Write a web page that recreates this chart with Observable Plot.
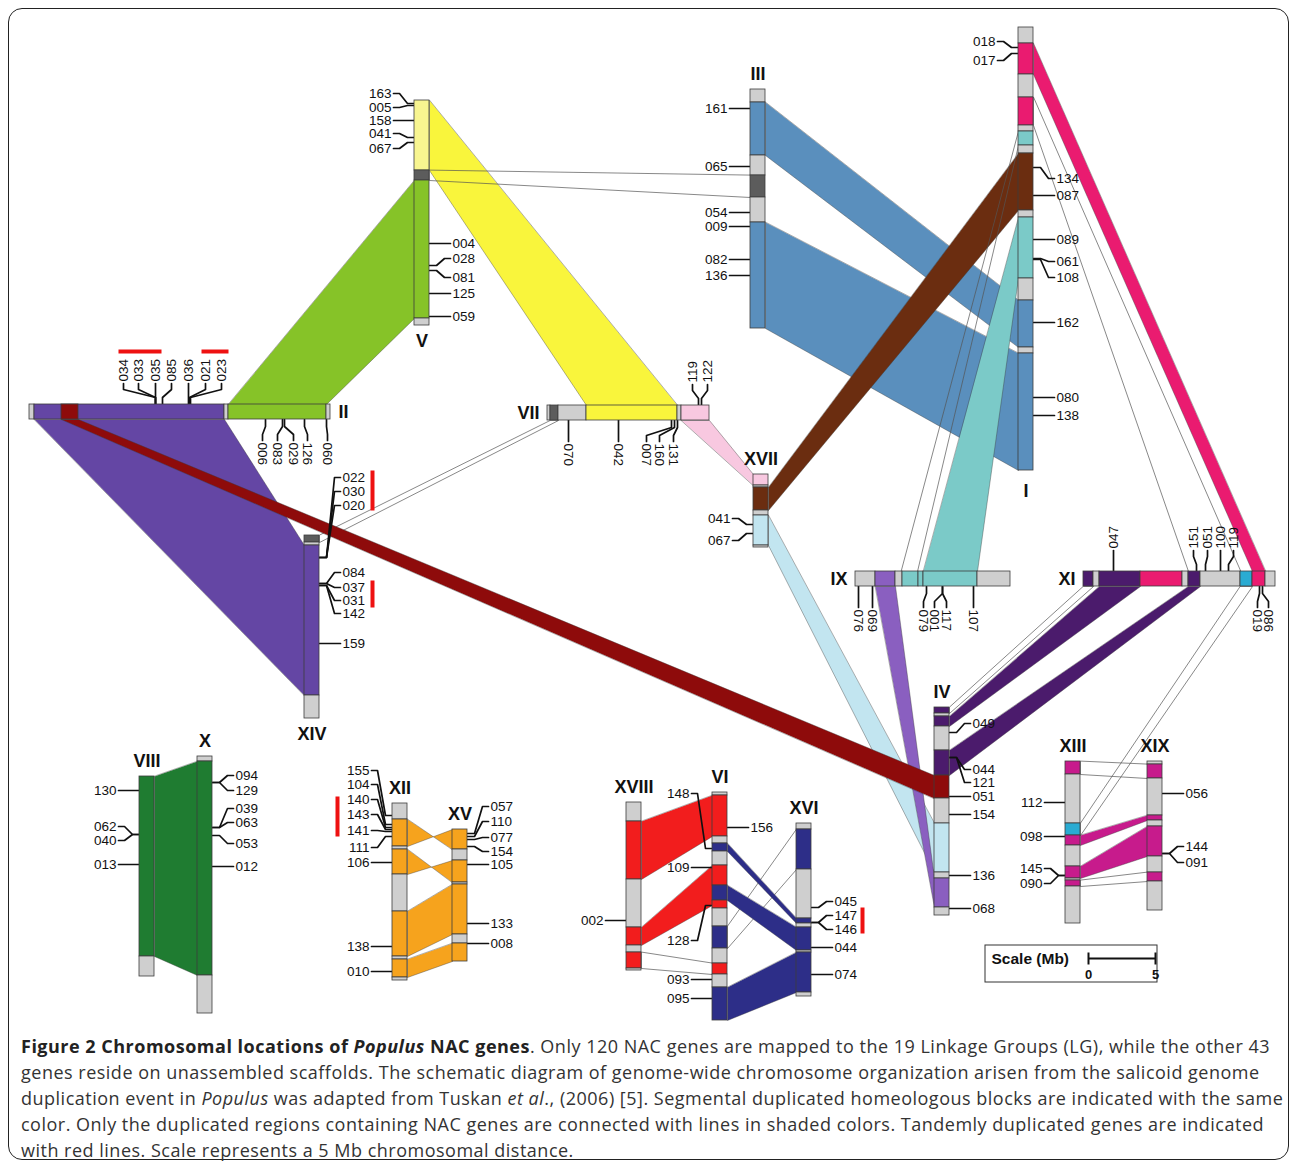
<!DOCTYPE html>
<html><head><meta charset="utf-8">
<script src="https://cdn.jsdelivr.net/npm/d3@7"></script>
<script src="https://cdn.jsdelivr.net/npm/@observablehq/plot@0.6"></script>
<style>
body{margin:0;background:#fff;font-family:"Open Sans",sans-serif;}
#wrap{position:relative;width:1290px;height:1168px;overflow:hidden;}
#frame{position:absolute;left:8px;top:8px;width:1281px;height:1152px;border:1.5px solid #222;border-radius:14px;box-sizing:border-box;}
#chart{position:absolute;left:0;top:0;}
#caption{position:absolute;left:21px;top:1033px;font-size:18px;letter-spacing:0.5px;line-height:26px;color:#333;white-space:nowrap;}
#caption b{color:#222;}
</style></head><body>
<div id="wrap"><div id="frame"></div><div id="chart"></div>
<div id="caption"><b>Figure 2 Chromosomal locations of <i>Populus</i> NAC genes</b>. Only 120 NAC genes are mapped to the 19 Linkage Groups (LG), while the other 43<br>genes reside on unassembled scaffolds. The schematic diagram of genome-wide chromosome organization arisen from the salicoid genome<br>duplication event in <i>Populus</i> was adapted from Tuskan <i>et al</i>., (2006) [5]. Segmental duplicated homeologous blocks are indicated with the same<br>color. Only the duplicated regions containing NAC genes are connected with lines in shaded colors. Tandemly duplicated genes are indicated<br>with red lines. Scale represents a 5 Mb chromosomal distance.</div>
</div>
<script>
// ---- chromosomes: id, orientation, layout x, layout y, length (map units), label side
const chromosomes = [
 ["I","v",1018,27,443,"bottom"],
 ["II","h",29,404,301,"right"],
 ["III","v",750,89,239,"top"],
 ["IV","v",934,707,208,"top"],
 ["V","v",414,100,225,"bottom"],
 ["VI","v",712,792,228,"top"],
 ["VII","h",547,405,162,"left"],
 ["VIII","v",139,776,200,"top"],
 ["IX","h",855,571,155,"left"],
 ["X","v",197,756,257,"top"],
 ["XI","h",1083,571,192,"left"],
 ["XII","v",392,803,177,"top"],
 ["XIII","v",1065,761,162,"top"],
 ["XIV","v",304,535,183,"bottom"],
 ["XV","v",452,829,132,"top"],
 ["XVI","v",796,823,173,"top"],
 ["XVII","v",753,474,73,"top"],
 ["XVIII","v",626,802,168,"top"],
 ["XIX","v",1147,761,149,"top"]
];
// ---- blocks on chromosomes: chromosome, start, end, block colour
const segments = [
 ["I",0,16,"gray"],["I",16,47,"pink"],["I",47,70,"gray"],["I",70,98,"pink"],["I",98,104,"gray"],["I",104,118,"teal"],["I",118,126,"gray"],["I",126,183,"brown"],["I",183,190,"gray"],["I",190,251,"teal"],["I",251,273,"gray"],["I",273,320,"blue"],["I",320,326,"gray"],["I",326,443,"blue"],
 ["II",0,5,"gray"],["II",5,195,"purple"],["II",32,49,"darkred"],["II",195,199,"gray"],["II",199,297,"green"],["II",297,301,"gray"],
 ["III",0,13,"gray"],["III",13,66,"blue"],["III",66,86,"gray"],["III",86,108,"dgray"],["III",108,133,"gray"],["III",133,239,"blue"],
 ["IV",0,6,"dpurple"],["IV",6,9,"gray"],["IV",9,19,"dpurple"],["IV",19,43,"gray"],["IV",43,68,"dpurple"],["IV",68,91,"darkred"],["IV",91,116,"gray"],["IV",116,165,"lightblue"],["IV",165,171,"gray"],["IV",171,200,"lavender"],["IV",200,208,"gray"],
 ["V",0,70,"lyellow"],["V",70,80,"dgray"],["V",80,218,"green"],["V",218,225,"gray"],
 ["VI",0,3,"gray"],["VI",3,44,"red"],["VI",44,51,"gray"],["VI",51,59,"navy"],["VI",59,73,"gray"],["VI",73,93,"red"],["VI",93,108,"navy"],["VI",108,116,"red"],["VI",116,134,"gray"],["VI",134,156,"navy"],["VI",156,171,"gray"],["VI",171,182,"red"],["VI",182,195,"gray"],["VI",195,228,"navy"],
 ["VII",0,3,"gray"],["VII",3,11,"dgray"],["VII",11,39,"gray"],["VII",39,130,"yellow"],["VII",130,134,"gray"],["VII",134,162,"lightpink"],
 ["VIII",0,180,"dgreen"],["VIII",180,200,"gray"],
 ["IX",0,20,"gray"],["IX",20,40,"lavender"],["IX",40,47,"gray"],["IX",47,63,"teal"],["IX",63,68,"teal"],["IX",68,122,"teal"],["IX",122,155,"gray"],
 ["X",0,5,"gray"],["X",5,219,"dgreen"],["X",219,257,"gray"],
 ["XI",0,10,"dpurple"],["XI",10,16,"gray"],["XI",16,57,"dpurple"],["XI",57,99,"pink"],["XI",99,105,"gray"],["XI",105,117,"dpurple"],["XI",117,157,"gray"],["XI",157,169,"cyan"],["XI",169,182,"pink"],["XI",182,192,"gray"],
 ["XII",0,16,"gray"],["XII",16,43,"orange"],["XII",43,46,"gray"],["XII",46,71,"orange"],["XII",71,108,"gray"],["XII",108,153,"orange"],["XII",153,156,"gray"],["XII",156,174,"orange"],["XII",174,177,"gray"],
 ["XIII",0,13,"magenta"],["XIII",13,62,"gray"],["XIII",62,74,"cyan"],["XIII",74,84,"magenta"],["XIII",84,105,"gray"],["XIII",105,117,"magenta"],["XIII",117,119,"gray"],["XIII",119,125,"magenta"],["XIII",125,162,"gray"],
 ["XIV",0,7,"dgray"],["XIV",7,10,"gray"],["XIV",10,160,"purple"],["XIV",160,183,"gray"],
 ["XV",0,20,"orange"],["XV",20,31,"gray"],["XV",31,53,"orange"],["XV",53,55,"gray"],["XV",55,105,"orange"],["XV",105,114,"gray"],["XV",114,132,"orange"],
 ["XVI",0,6,"gray"],["XVI",6,46,"navy"],["XVI",46,95,"gray"],["XVI",95,100,"navy"],["XVI",100,104,"gray"],["XVI",104,127,"navy"],["XVI",127,129,"gray"],["XVI",129,169,"navy"],["XVI",169,173,"gray"],
 ["XVII",0,11,"lightpink"],["XVII",11,13,"gray"],["XVII",13,36,"brown"],["XVII",36,41,"gray"],["XVII",41,71,"lightblue"],["XVII",71,73,"gray"],
 ["XVIII",0,19,"gray"],["XVIII",19,77,"red"],["XVIII",77,125,"gray"],["XVIII",125,143,"red"],["XVIII",143,150,"gray"],["XVIII",150,166,"red"],["XVIII",166,168,"gray"],
 ["XIX",0,3,"gray"],["XIX",3,17,"magenta"],["XIX",17,54,"gray"],["XIX",54,59,"magenta"],["XIX",59,65,"gray"],["XIX",65,95,"magenta"],["XIX",95,111,"gray"],["XIX",111,120,"magenta"],["XIX",120,149,"gray"]
];
// ---- duplicated blocks: chrA, side, startA, endA, chrB, side, startB, endB, colour ("none" = outline only)
const ribbons = [
 ["II","B",5,195,"XIV","L",160,10,"purple"],
 ["II","T",199,297,"V","L",80,218,"green"],
 ["V","R",0,70,"VII","T",130,39,"yellow"],
 ["V","R",70,80,"III","L",86,108,"none"],
 ["VII","B",3,11,"XIV","R",0,7,"none"],
 ["VII","B",134,162,"XVII","L",11,0,"lightpink"],
 ["III","R",13,66,"I","L",273,320,"blue"],
 ["III","R",133,239,"I","L",326,443,"blue"],
 ["XVII","R",13,36,"I","L",126,183,"brown"],
 ["XVII","R",41,71,"IV","L",116,165,"lightblue"],
 ["IX","B",20,40,"IV","L",200,171,"lavender"],
 ["I","L",104,118,"IX","T",46,62,"none"],
 ["I","L",190,251,"IX","T",68,122,"teal"],
 ["I","R",16,47,"XI","T",182,169,"pink"],
 ["I","R",70,98,"XI","T",157,105,"none"],
 ["XI","B",0,10,"IV","R",0,6,"none"],
 ["XI","B",16,57,"IV","R",9,19,"dpurple"],
 ["XI","B",105,117,"IV","R",43,68,"dpurple"],
 ["XI","B",157,169,"XIII","R",62,74,"none"],
 ["II","B",32,49,"IV","L",91,68,"darkred"],
 ["VIII","R",0,180,"X","L",5,219,"dgreen"],
 ["XII","R",16,43,"XV","L",20,0,"orange"],
 ["XII","R",46,71,"XV","L",53,31,"orange"],
 ["XII","R",108,153,"XV","L",55,105,"orange"],
 ["XII","R",156,174,"XV","L",114,132,"orange"],
 ["XVIII","R",19,77,"VI","L",3,44,"red"],
 ["XVIII","R",125,143,"VI","L",73,113,"red"],
 ["XVIII","R",150,166,"VI","L",171,182,"none"],
 ["VI","R",134,156,"XVI","L",6,46,"none"],
 ["VI","R",51,59,"XVI","L",95,100,"navy"],
 ["VI","R",93,108,"XVI","L",104,127,"navy"],
 ["VI","R",195,228,"XVI","L",129,169,"navy"],
 ["XIII","R",0,13,"XIX","L",3,17,"none"],
 ["XIII","R",74,84,"XIX","L",54,59,"magenta"],
 ["XIII","R",105,117,"XIX","L",65,95,"magenta"],
 ["XIII","R",119,125,"XIX","L",111,120,"none"]
];
// ---- NAC genes: chromosome, side, position on chromosome, label position, gene number
const genes = [
 ["V","L",3,-7,"163"],["V","L",5,7,"005"],["V","L",20,20,"158"],["V","L",37,33,"041"],["V","L",42,48,"067"],
 ["V","R",143,143,"004"],["V","R",165,158,"028"],["V","R",170,177,"081"],["V","R",193,193,"125"],["V","R",216,216,"059"],
 ["III","L",19,19,"161"],["III","L",77,77,"065"],["III","L",123,123,"054"],["III","L",137,137,"009"],["III","L",170,170,"082"],["III","L",186,186,"136"],
 ["I","L",20,14,"018"],["I","L",26,33,"017"],
 ["I","R",140,151,"134"],["I","R",168,168,"087"],["I","R",212,212,"089"],["I","R",231,234,"061"],["I","R",232,250,"108"],["I","R",295,295,"162"],["I","R",370,370,"080"],["I","R",388,388,"138"],
 ["II","T",126,94,"034"],["II","T",126,109,"033"],["II","T",126,126,"035"],["II","T",133,142,"085"],["II","T",159,159,"036"],["II","T",160,176,"021"],["II","T",161,192,"023"],
 ["II","B",236,233,"006"],["II","B",253,248,"083"],["II","B",255,264,"029"],["II","B",275,278,"126"],["II","B",297,298,"060"],
 ["VII","B",21,21,"070"],["VII","B",71,71,"042"],["VII","B",124,99,"007"],["VII","B",127,112,"160"],["VII","B",130,126,"131"],
 ["VII","T",151,145,"119"],["VII","T",154,160,"122"],
 ["XVII","L",50,44,"041"],["XVII","L",59,66,"067"],
 ["XIV","R",22,-58,"022"],["XIV","R",22,-44,"030"],["XIV","R",22,-30,"020"],["XIV","R",48,37,"084"],["XIV","R",48,52,"037"],["XIV","R",50,65,"031"],["XIV","R",50,78,"142"],["XIV","R",108,108,"159"],
 ["IX","B",3,3,"076"],["IX","B",17,17,"069"],["IX","B",71,68,"079"],["IX","B",87,79,"001"],["IX","B",87,91,"117"],["IX","B",118,118,"107"],
 ["XI","T",30,30,"047"],["XI","T",113,110,"151"],["XI","T",122,124,"051"],["XI","T",137,137,"100"],["XI","T",145,150,"119"],
 ["XI","B",176,174,"019"],["XI","B",179,185,"086"],
 ["IV","R",25,16,"049"],["IV","R",50,62,"044"],["IV","R",50,75,"121"],["IV","R",89,89,"051"],["IV","R",107,107,"154"],["IV","R",168,168,"136"],["IV","R",201,201,"068"],
 ["VIII","L",14,14,"130"],["VIII","L",58,50,"062"],["VIII","L",58,64,"040"],["VIII","L",88,88,"013"],
 ["X","R",26,19,"094"],["X","R",26,34,"129"],["X","R",71,52,"039"],["X","R",71,66,"063"],["X","R",79,87,"053"],["X","R",110,110,"012"],
 ["XII","L",12,-33,"155"],["XII","L",21,-19,"104"],["XII","L",24,-4,"140"],["XII","L",26,11,"143"],["XII","L",28,27,"141"],["XII","L",33,44,"111"],["XII","L",59,59,"106"],["XII","L",143,143,"138"],["XII","L",168,168,"010"],
 ["XV","R",4,-23,"057"],["XV","R",7,-8,"110"],["XV","R",10,8,"077"],["XV","R",17,22,"154"],["XV","R",35,35,"105"],["XV","R",94,94,"133"],["XV","R",114,114,"008"],
 ["XVIII","L",118,118,"002"],
 ["VI","L",56,1,"148"],["VI","L",75,75,"109"],["VI","L",113,148,"128"],["VI","L",187,187,"093"],["VI","L",206,206,"095"],["VI","R",35,35,"156"],
 ["XVI","R",84,78,"045"],["XVI","R",99,92,"147"],["XVI","R",99,106,"146"],["XVI","R",124,124,"044"],["XVI","R",151,151,"074"],
 ["XIII","L",41,41,"112"],["XIII","L",75,75,"098"],["XIII","L",114,107,"145"],["XIII","L",114,122,"090"],
 ["XIX","R",32,32,"056"],["XIX","R",92,85,"144"],["XIX","R",92,101,"091"]
];
// ---- tandem duplicated gene groups: chromosome, side, from, to, distance from chromosome
const tandem = [
 ["II","T",89,132,53],["II","T",172,199,53],
 ["XIV","R",-65,-25,53],["XIV","R",45,72,53],
 ["XII","L",-7,33,55],["XVI","R",84,110,51]
];
const scaleTicks = [0, 5];
const scaleTitle = "Scale (Mb)";

const palette = {
 gray:"#cfcfcf", dgray:"#5c5c5c", purple:"#6446a4", darkred:"#8e0b0b", green:"#86c328",
 lyellow:"#f8f590", yellow:"#f9f53c", blue:"#5a8fbd", pink:"#ea1b70", teal:"#7bcac8",
 brown:"#6b2d10", lightpink:"#f8c8e0", lightblue:"#c2e5f0", lavender:"#8a5fc0",
 dpurple:"#4b1b6c", cyan:"#2aabd2", dgreen:"#1f7c31", orange:"#f6a31d", red:"#f21d1d",
 navy:"#2d2e88", magenta:"#c71b8c"
};
const W = 15;
const C = new Map(chromosomes.map(([id,o,x,y,len,ls]) => [id,{id,o,x,y,len,ls}]));
function pt(id, side, off) {
  const c = C.get(id);
  if (c.o === "v") return {x: side === "L" ? c.x : c.x + W, y: c.y + off};
  return {x: c.x + off, y: side === "T" ? c.y : c.y + W};
}
const segRects = segments.map(([id,a,b,col]) => {
  const c = C.get(id);
  return c.o === "v"
    ? {x1:c.x, x2:c.x+W, y1:c.y+a, y2:c.y+b, fill:palette[col]}
    : {x1:c.x+a, x2:c.x+b, y1:c.y, y2:c.y+W, fill:palette[col]};
});
const ribbonMarks = ribbons.map(([a,sa,a1,a2,b,sb,b1,b2,col]) => {
  const pts = [pt(a,sa,a1), pt(a,sa,a2), pt(b,sb,b2), pt(b,sb,b1)];
  const thin = col === "none";
  return Plot.line(pts, {x:"x", y:"y", curve:"linear-closed",
    fill: thin ? "none" : palette[col], stroke: thin ? "#555" : "#3a3a3a", strokeWidth: thin ? 0.7 : 0.4});
});
const connPts = [], labelPts = [];
genes.forEach(([id, side, att, lab, name], i) => {
  const c = C.get(id);
  const s = (side === "L" || side === "T") ? -1 : 1;
  const offs = [0, 7, 15, 21];
  if (c.o === "v") {
    const ex = side === "L" ? c.x : c.x + W;
    const ys = [att, att, lab, lab];
    offs.forEach((o,k) => connPts.push({id:i, x: ex + s*o, y: c.y + ys[k]}));
    labelPts.push({x: ex + s*23, y: c.y + lab, text: name, kind: s < 0 ? "end" : "start"});
  } else {
    const ey = side === "T" ? c.y : c.y + W;
    const xs = [att, att, lab, lab];
    offs.forEach((o,k) => connPts.push({id:i, x: c.x + xs[k], y: ey + s*o}));
    labelPts.push({x: c.x + lab, y: ey + s*23, text: name, kind: s < 0 ? "up" : "down"});
  }
});
const tandemLinks = tandem.map(([id, side, a, b, d]) => {
  const c = C.get(id);
  if (c.o === "v") { const x = side === "L" ? c.x - d : c.x + W + d; return {x1:x, x2:x, y1:c.y+a, y2:c.y+b}; }
  const y = side === "T" ? c.y - d : c.y + W + d; return {x1:c.x+a, x2:c.x+b, y1:y, y2:y};
});
const chrLabels = chromosomes.map(([id,o,x,y,len,ls]) => {
  if (ls === "top") return {x: x + W/2, y: y - 15, text: id, a: "middle"};
  if (ls === "bottom") return {x: x + W/2, y: y + len + (id === "I" ? 21 : 16), text: id, a: "middle"};
  if (ls === "left") return {x: x - 8, y: y + W/2, text: id, a: "end"};
  return {x: x + len + 8, y: y + W/2, text: id, a: "start"};
});
// scale bar
const sb = {x: 1088, y: 958, px: 13.4};
const scaleBox = [{x1: 985, x2: 1157, y1: 945, y2: 982}];
const scaleT = scaleTicks.map(t => ({x: sb.x + t*sb.px, y: sb.y, t: String(t)}));

const font = "'Liberation Sans', Arial, sans-serif";
const FS = 13.5;
const chart = Plot.plot({
  width: 1290, height: 1030, margin: 0,
  x: {domain: [0, 1290], range: [0, 1290], axis: null},
  y: {domain: [0, 1030], range: [0, 1030], axis: null},
  color: {type: "identity"},
  style: {fontFamily: font, background: "transparent"},
  marks: [
    ...ribbonMarks,
    Plot.link(tandemLinks, {x1:"x1", y1:"y1", x2:"x2", y2:"y2", stroke:"#ee1111", strokeWidth:4}),
    Plot.line(connPts, {x:"x", y:"y", z:"id", stroke:"#111", strokeWidth:1.7}),
    Plot.rect(segRects, {x1:"x1", x2:"x2", y1:"y1", y2:"y2", fill:"fill", stroke:"#3c3c3c", strokeWidth:0.8}),
    Plot.text(labelPts.filter(d => d.kind === "end"), {x:"x", y:"y", text:"text", textAnchor:"end", fontSize:FS, fill:"#111"}),
    Plot.text(labelPts.filter(d => d.kind === "start"), {x:"x", y:"y", text:"text", textAnchor:"start", fontSize:FS, fill:"#111"}),
    Plot.text(labelPts.filter(d => d.kind === "up"), {x:"x", y:"y", text:"text", textAnchor:"start", rotate:-90, fontSize:FS, fill:"#111"}),
    Plot.text(labelPts.filter(d => d.kind === "down"), {x:"x", y:"y", text:"text", textAnchor:"start", rotate:90, fontSize:FS, fill:"#111"}),
    ...["middle","start","end"].map(a => Plot.text(chrLabels.filter(d => d.a === a), {x:"x", y:"y", text:"text", textAnchor:a, fontSize:18, fontWeight:"bold", fill:"#111"})),
    Plot.rect(scaleBox, {x1:"x1", x2:"x2", y1:"y1", y2:"y2", fill:"white", stroke:"#333", strokeWidth:1}),
    Plot.text([scaleTitle], {x: () => 991, y: () => 959, text: d => d, textAnchor:"start", fontSize:15.5, fontWeight:"bold", fill:"#111"}),
    Plot.link([scaleT], {x1: d => d[0].x, x2: d => d[d.length-1].x, y1: () => sb.y, y2: () => sb.y, stroke:"#111", strokeWidth:2}),
    Plot.link(scaleT, {x1:"x", x2:"x", y1: d => d.y - 6, y2: d => d.y + 6, stroke:"#111", strokeWidth:2}),
    Plot.text(scaleT, {x:"x", y: d => d.y + 16, text:"t", fontSize:13, fontWeight:"bold", fill:"#111"})
  ]
});
document.getElementById("chart").appendChild(chart);
</script>
</body></html>
